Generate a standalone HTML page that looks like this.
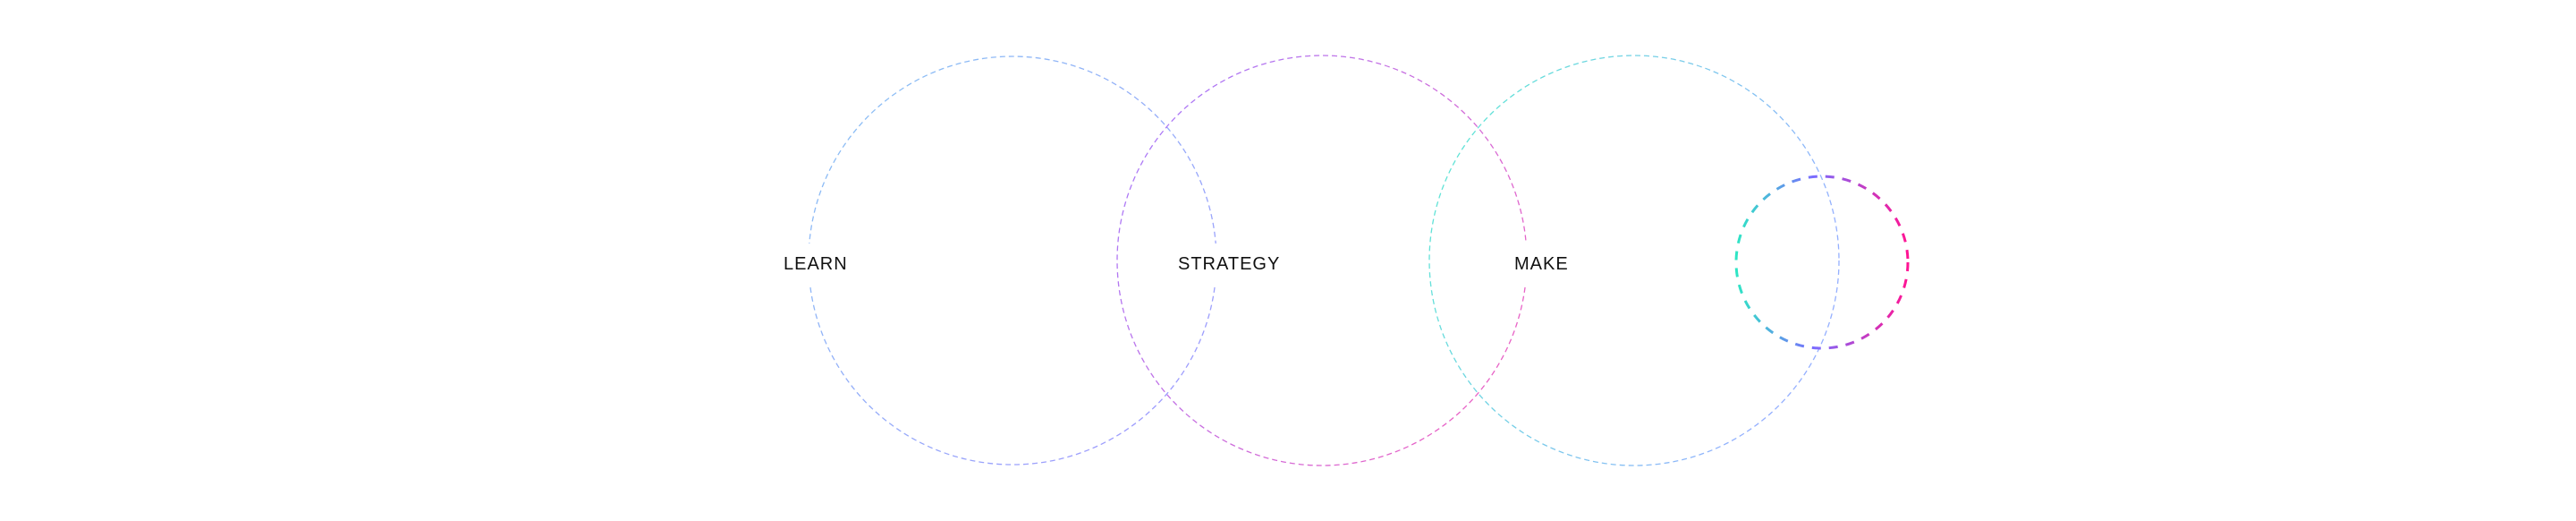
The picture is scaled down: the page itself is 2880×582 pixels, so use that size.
<!DOCTYPE html>
<html><head><meta charset="utf-8"><style>
html,body{margin:0;padding:0;background:#fff;}
body{width:2880px;height:582px;overflow:hidden;position:relative;}
svg{position:absolute;left:0;top:0;}
.lbl{position:absolute;top:272px;height:46px;line-height:46px;background:#fff;font-family:"Liberation Sans",sans-serif;font-size:20px;letter-spacing:1px;color:#111;padding:0 4px;}
</style></head><body>
<svg width="2880" height="582" viewBox="0 0 2880 582">
<defs>
<linearGradient id="g1" x1="0" y1="0" x2="1" y2="1"><stop offset="0" stop-color="#6ab4f0"/><stop offset="1" stop-color="#8a7cff"/></linearGradient>
<linearGradient id="g2" x1="0" y1="0" x2="1" y2="0.6"><stop offset="0" stop-color="#8a5cff"/><stop offset="1" stop-color="#e23cb8"/></linearGradient>
<linearGradient id="g3" x1="0" y1="0" x2="1" y2="0.4"><stop offset="0" stop-color="#2ee6c4"/><stop offset="1" stop-color="#7a9cff"/></linearGradient>
<linearGradient id="g4" x1="0" y1="0" x2="1" y2="0"><stop offset="0" stop-color="#2ee6c4"/><stop offset="0.45" stop-color="#7a6cff"/><stop offset="1" stop-color="#ff1493"/></linearGradient>
</defs>
<g fill="none">
<circle cx="1132" cy="291" r="228" stroke="url(#g1)" stroke-width="1.3" stroke-dasharray="6 4" opacity="0.8"/>
<circle cx="1478" cy="291" r="229" stroke="url(#g2)" stroke-width="1.3" stroke-dasharray="6 4" opacity="0.8"/>
<circle cx="1827" cy="291" r="229" stroke="url(#g3)" stroke-width="1.3" stroke-dasharray="6 4" opacity="0.8"/>
<circle cx="2037" cy="293" r="96" stroke="url(#g4)" stroke-width="3" stroke-dasharray="10 9"/>
</g>
</svg>
<div class="lbl" style="left:872px">LEARN</div>
<div class="lbl" style="left:1313px">STRATEGY</div>
<div class="lbl" style="left:1689px">MAKE</div>
</body></html>
